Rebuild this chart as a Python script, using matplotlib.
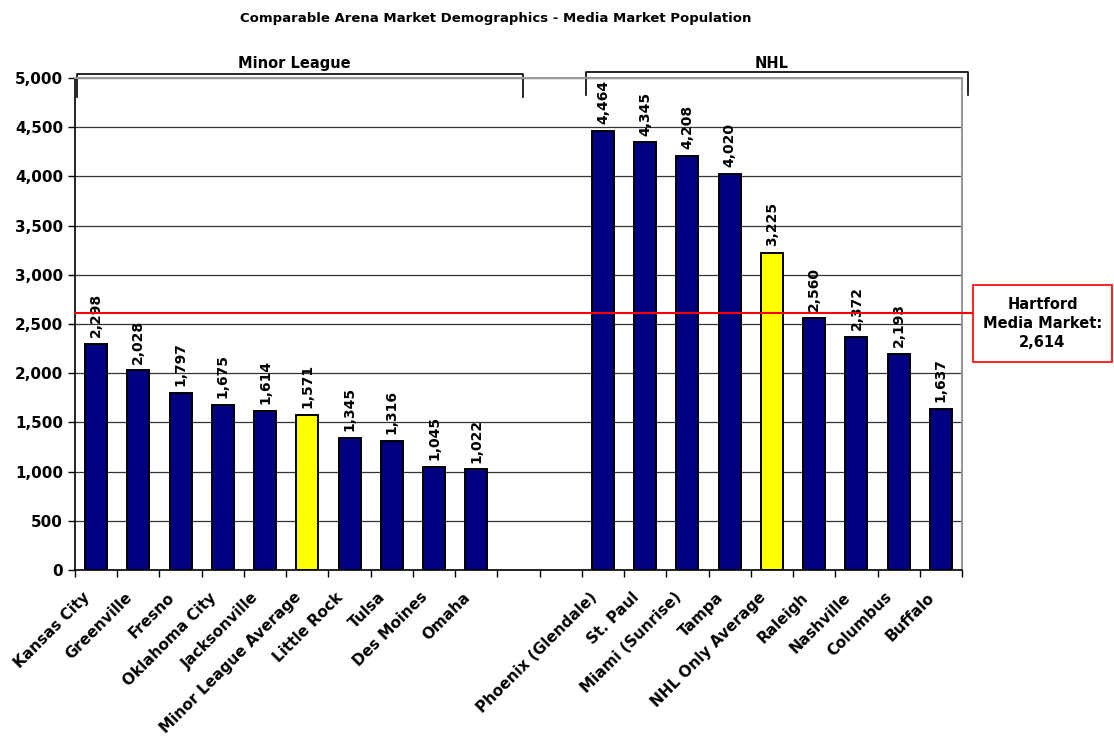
import matplotlib.pyplot as plt
import matplotlib.transforms as mtransforms
from matplotlib.patches import Rectangle
from matplotlib.ticker import FuncFormatter

plt.rcParams['font.family'] = ['DejaVu Sans']
plt.rcParams['font.weight'] = 'bold'

# Media market population (thousands)
minor_teams = ['Kansas City', 'Greenville', 'Fresno', 'Oklahoma City', 'Jacksonville',
               'Minor League Average', 'Little Rock', 'Tulsa', 'Des Moines', 'Omaha']
minor_pop = [2298, 2028, 1797, 1675, 1614, 1571, 1345, 1316, 1045, 1022]

nhl_teams = ['Phoenix (Glendale)', 'St. Paul', 'Miami (Sunrise)', 'Tampa', 'NHL Only Average',
             'Raleigh', 'Nashville', 'Columbus', 'Buffalo']
nhl_pop = [4464, 4345, 4208, 4020, 3225, 2560, 2372, 2193, 1637]

hartford_pop = 2614

# two empty slots between the groups
labels = minor_teams + ['', ''] + nhl_teams
values = minor_pop + [None, None] + nhl_pop

fig = plt.figure(figsize=(11.14, 7.40), dpi=100)
ax = fig.add_axes([0.0673, 0.2297, 0.7963, 0.6649])

for i, (lab, v) in enumerate(zip(labels, values)):
    if v is None:
        continue
    color = '#FFFF00' if 'Average' in lab else '#000080'
    ax.bar(i + 0.5, v, width=0.52, color=color, edgecolor='black', linewidth=1.4, zorder=3)
    ax.annotate(f'{v:,}', (i + 0.5, v), xytext=(0, 5), textcoords='offset points',
                rotation=90, ha='center', va='bottom', fontsize=10, fontweight='bold',
                zorder=4)

ax.set_xlim(0, len(labels))
ax.set_ylim(0, 5000)
ax.set_yticks(range(0, 5001, 500))
ax.yaxis.set_major_formatter(FuncFormatter(lambda v, p: f'{int(v):,}'))
ax.tick_params(axis='y', labelsize=11, length=5, width=1, direction='out')
for t in ax.get_yticklabels():
    t.set_fontweight('bold')

ax.set_xticks(range(0, len(labels) + 1))
ax.set_xticklabels([])
ax.tick_params(axis='x', which='major', length=5, width=1, direction='out')
ax.set_xticks([i + 0.5 for i in range(len(labels))], minor=True)
ax.set_xticklabels(labels, minor=True, rotation=45, ha='right', rotation_mode='anchor',
                   fontsize=11, fontweight='bold')
ax.tick_params(axis='x', which='minor', length=0, pad=9)
# nudge category labels down-left
shift = mtransforms.ScaledTranslation(-0.14, -0.07, fig.dpi_scale_trans)
for t in ax.get_xticklabels(minor=True):
    t.set_transform(t.get_transform() + shift)

ax.grid(axis='y', color='#333333', linewidth=0.9, zorder=0)
for s in ['left', 'bottom']:
    ax.spines[s].set_color('black')
    ax.spines[s].set_linewidth(1.2)
for s in ['top', 'right']:
    ax.spines[s].set_color('#999999')
    ax.spines[s].set_linewidth(1.5)

# Hartford reference line and callout box
ax.plot([0, 21.26], [hartford_pop, hartford_pop], color='red', linewidth=1.5,
        clip_on=False, zorder=5)
fig.patches.append(Rectangle((0.8734, 0.5108), 0.1248, 0.1041, transform=fig.transFigure,
                             facecolor='white', edgecolor='red', linewidth=1.2))
fig.text(0.9358, 0.5628, f'Hartford\nMedia Market:\n{hartford_pop:,}', ha='center', va='center',
         fontsize=10.5, fontweight='bold', linespacing=1.3)

# group brackets
br = dict(color='black', linewidth=1.2, clip_on=False)
ax.plot([0.05, 0.05, 10.6, 10.6], [4810, 5045, 5045, 4810], **br)
ax.plot([12.1, 12.1, 21.15, 21.15], [4830, 5060, 5060, 4830], **br)
ax.text(5.2, 5075, 'Minor League', ha='center', va='bottom', fontsize=10.5, fontweight='bold')
ax.text(16.5, 5068, 'NHL', ha='center', va='bottom', fontsize=10.5, fontweight='bold')

fig.text(0.445, 0.975, 'Comparable Arena Market Demographics - Media Market Population',
         ha='center', va='center', fontsize=9.5, fontweight='bold')

fig.savefig('out.png', dpi=100)
